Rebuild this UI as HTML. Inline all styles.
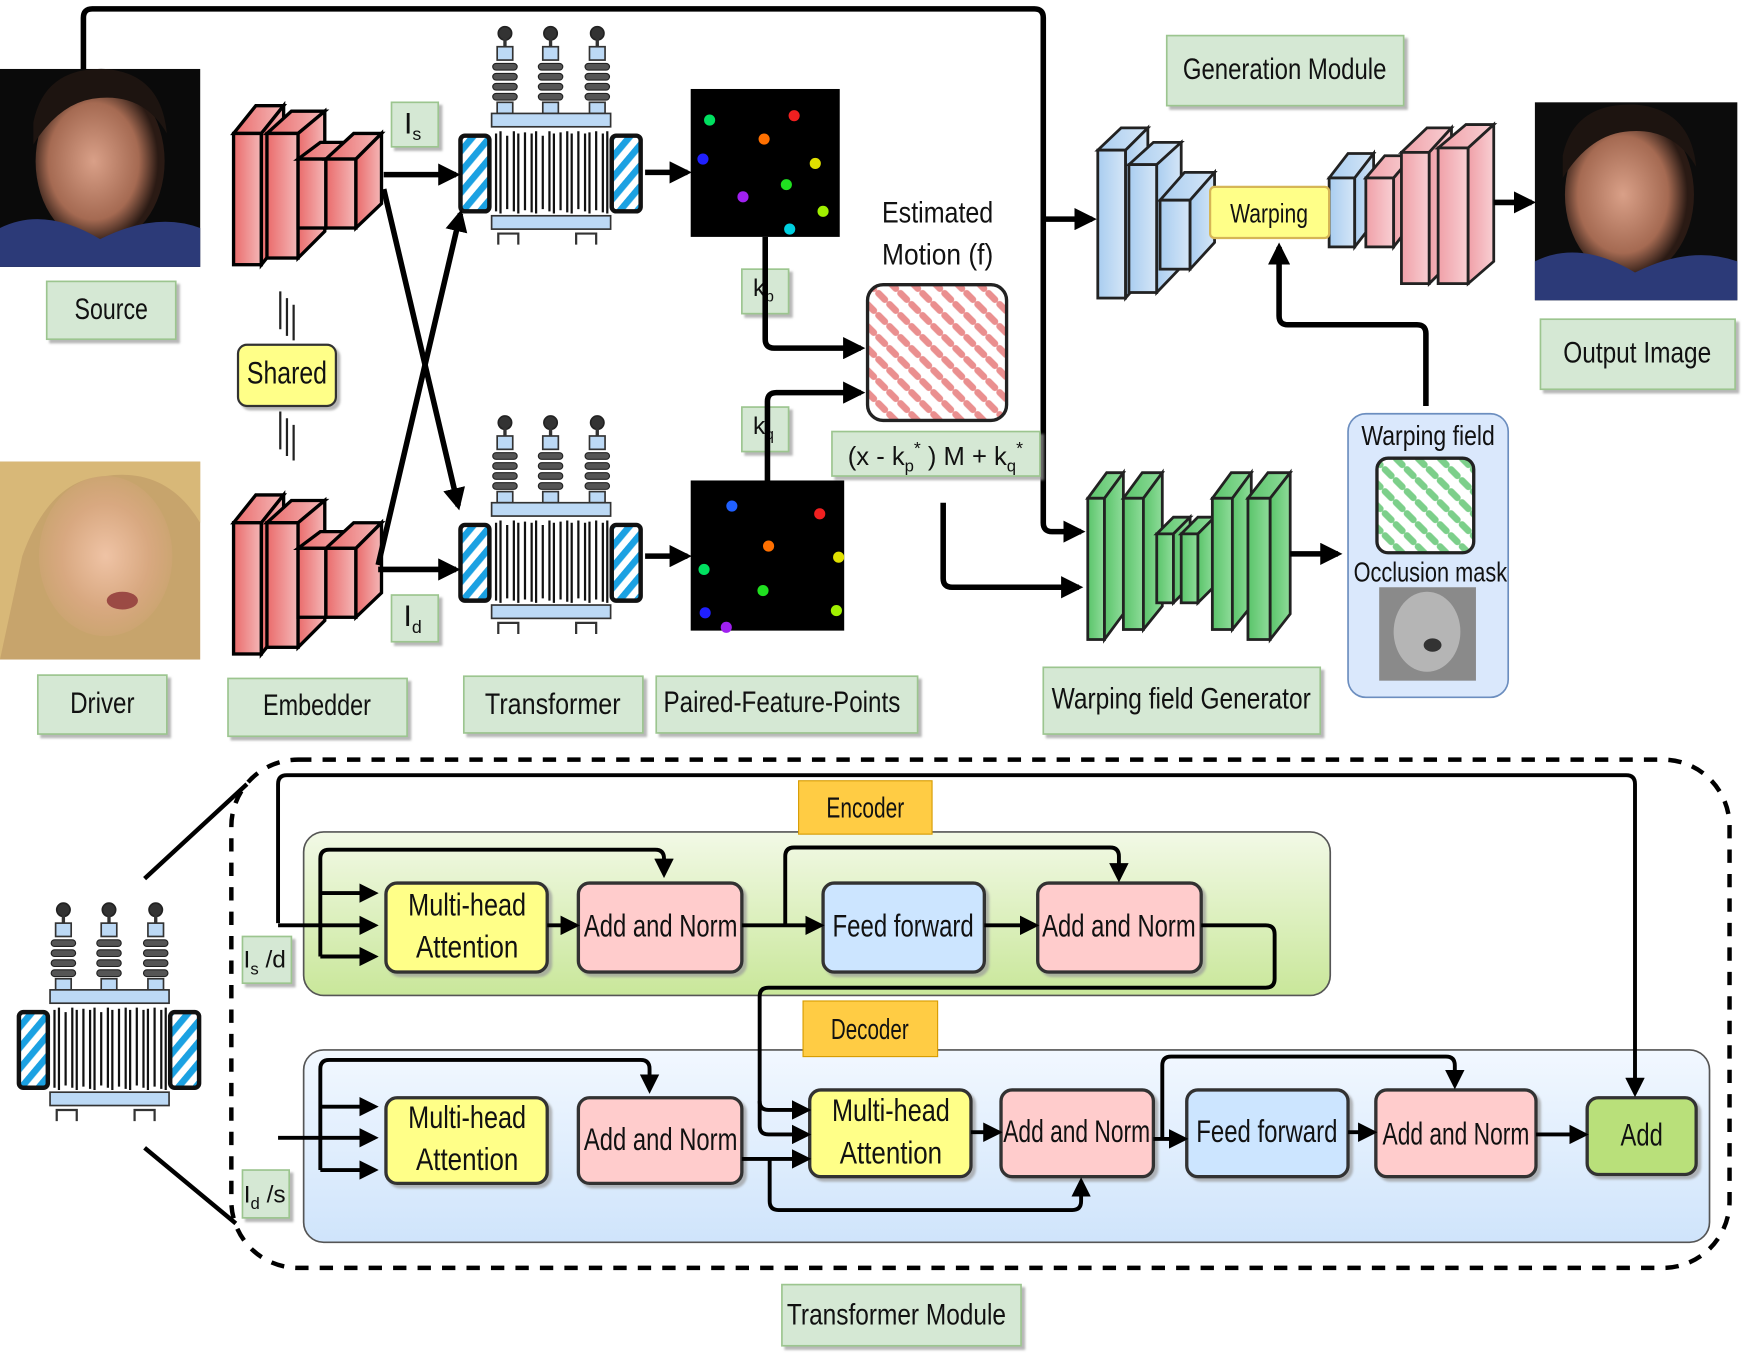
<!DOCTYPE html>
<html><head><meta charset="utf-8"><style>
html,body{margin:0;padding:0;background:#fff}
svg{display:block}
text{font-family:"Liberation Sans Narrow","Liberation Sans",sans-serif;fill:#111}
</style></head><body>
<svg width="1744" height="1358" viewBox="0 0 1568 1221" preserveAspectRatio="none" xmlns="http://www.w3.org/2000/svg">
<defs>
<marker id="ah" viewBox="0 0 10 10" refX="8" refY="5" markerWidth="4" markerHeight="4" orient="auto-start-reverse"><path d="M0,0L10,5L0,10z" fill="#000"/></marker>
<marker id="as" viewBox="0 0 10 10" refX="8" refY="5" markerWidth="5" markerHeight="5" orient="auto"><path d="M0,0L10,5L0,10z" fill="#000"/></marker>
<pattern id="hb" width="12" height="12" patternUnits="userSpaceOnUse" patternTransform="rotate(40)"><rect width="12" height="12" fill="#fff"/><rect width="6" height="12" fill="#1ba1e2"/></pattern>
<pattern id="hp" width="14" height="14" patternUnits="userSpaceOnUse" patternTransform="rotate(45)"><rect width="14" height="14" fill="#fff"/><rect x="0" y="3" width="14" height="6" rx="3" fill="#ea8f8f"/></pattern>
<pattern id="hg" width="14" height="14" patternUnits="userSpaceOnUse" patternTransform="rotate(45)"><rect width="14" height="14" fill="#fff"/><rect x="0" y="3" width="14" height="6" rx="3" fill="#7ccf8a"/></pattern>
<linearGradient id="rg" x1="0" x2="1"><stop offset="0" stop-color="#ea6b6b"/><stop offset="1" stop-color="#f4b8b8"/></linearGradient>
<linearGradient id="bg" x1="0" x2="1"><stop offset="0" stop-color="#a9cdf0"/><stop offset="1" stop-color="#d5e6f7"/></linearGradient>
<linearGradient id="pg" x1="0" x2="1"><stop offset="0" stop-color="#f0a0a8"/><stop offset="1" stop-color="#f8cfd3"/></linearGradient>
<linearGradient id="gg" x1="0" x2="1"><stop offset="0" stop-color="#5ac46a"/><stop offset="1" stop-color="#8fdc9a"/></linearGradient>
<linearGradient id="encg" x1="0" y1="0" x2="0" y2="1"><stop offset="0" stop-color="#f2f9e6"/><stop offset="1" stop-color="#c9e79a"/></linearGradient>
<linearGradient id="decg" x1="0" y1="0" x2="0" y2="1"><stop offset="0" stop-color="#f2f8ff"/><stop offset="1" stop-color="#cfe4fb"/></linearGradient>
<radialGradient id="face1" cx="0.45" cy="0.5" r="0.5"><stop offset="0" stop-color="#d9a088"/><stop offset="0.7" stop-color="#a56a52"/><stop offset="1" stop-color="#2a1a14"/></radialGradient>
<radialGradient id="face2" cx="0.5" cy="0.5" r="0.55"><stop offset="0" stop-color="#efc3a5"/><stop offset="0.6" stop-color="#d8a880"/><stop offset="1" stop-color="#c9a46e"/></radialGradient>
<g id="tr">
 <g fill="#555" stroke="#222" stroke-width="1.5">
  <circle cx="42" cy="8" r="6" fill="#333"/><circle cx="83" cy="8" r="6" fill="#333"/><circle cx="125" cy="8" r="6" fill="#333"/>
 </g>
 <g stroke="#333" stroke-width="3"><line x1="42" y1="12" x2="42" y2="30"/><line x1="83" y1="12" x2="83" y2="30"/><line x1="125" y1="12" x2="125" y2="30"/></g>
 <g fill="#bcd9f5" stroke="#333" stroke-width="1.5"><rect x="35" y="20" width="14" height="12"/><rect x="76" y="20" width="14" height="12"/><rect x="118" y="20" width="14" height="12"/></g>
 <g fill="#555" stroke="#222">
  <rect x="31" y="35" width="22" height="6" rx="3"/><rect x="31" y="44" width="22" height="6" rx="3"/><rect x="31" y="53" width="22" height="6" rx="3"/><rect x="31" y="62" width="22" height="6" rx="3"/>
  <rect x="72" y="35" width="22" height="6" rx="3"/><rect x="72" y="44" width="22" height="6" rx="3"/><rect x="72" y="53" width="22" height="6" rx="3"/><rect x="72" y="62" width="22" height="6" rx="3"/>
  <rect x="114" y="35" width="22" height="6" rx="3"/><rect x="114" y="44" width="22" height="6" rx="3"/><rect x="114" y="53" width="22" height="6" rx="3"/><rect x="114" y="62" width="22" height="6" rx="3"/>
 </g>
 <g fill="#bcd9f5" stroke="#333" stroke-width="1.5"><rect x="35" y="70" width="14" height="10"/><rect x="76" y="70" width="14" height="10"/><rect x="118" y="70" width="14" height="10"/>
 <rect x="30" y="80" width="107" height="12"/><rect x="30" y="172" width="107" height="12"/></g>
 <g stroke="#111" stroke-width="2">
  <path d="M34 98V168M38 96V170M44 100V166M50 96V168M54 98V170M60 97V167M66 98V169M70 96V170M76 100V166M82 96V168M86 98V170M92 97V167M98 96V169M102 98V170M108 96V166M114 98V168M118 97V170M124 96V167M130 98V169M134 96V170"/>
 </g>
 <rect x="2" y="100" width="26" height="68" rx="4" fill="url(#hb)" stroke="#111" stroke-width="4"/>
 <rect x="138" y="100" width="26" height="68" rx="4" fill="url(#hb)" stroke="#111" stroke-width="4"/>
 <g fill="none" stroke="#333" stroke-width="2"><path d="M36 198V188H54V198M106 198V188H124V198"/></g>
</g>
<g id="emb" stroke="#000" stroke-width="3" fill="url(#rg)">
<path d="M210 120L230 95H255L235 120z"/><rect x="210" y="120" width="25" height="118"/><path d="M235 120L255 95V213L235 238z"/>
<path d="M240 120L262 100H292L268 120z"/><rect x="240" y="120" width="28" height="112"/><path d="M268 120L292 100V208L268 232z"/>
<path d="M268 143L288 128H315L295 143z"/><rect x="268" y="143" width="25" height="62"/>
<path d="M293 143L318 120H343L320 143z"/><rect x="293" y="143" width="27" height="62"/><path d="M320 143L343 120V183L320 205z"/>
</g>
<filter id="sh" x="-10%" y="-10%" width="130%" height="130%"><feDropShadow dx="3" dy="3" stdDeviation="1" flood-color="#999" flood-opacity="0.7"/></filter>
</defs>

<path d="M75 62V16Q75 8 83 8H930Q938 8 938 16V470Q938 478 946 478H972" fill="none" stroke="#000" stroke-width="5" marker-end="url(#ah)"/>
<path d="M938 197H982" fill="none" stroke="#000" stroke-width="5" marker-end="url(#ah)"/>

<rect x="0" y="62" width="180" height="178" fill="#0a0a0a"/>
<ellipse cx="90" cy="145" rx="58" ry="75" fill="url(#face1)"/>
<path d="M30 110Q40 60 95 62Q145 66 150 120Q130 85 90 88Q55 90 30 130z" fill="#1d1410"/>
<path d="M0 240V205Q40 185 90 215Q140 190 180 205V240z" fill="#2c3a78"/>
<rect x="0" y="415" width="180" height="178" fill="#c7a46c"/>
<ellipse cx="95" cy="500" rx="60" ry="72" fill="url(#face2)"/>
<path d="M0 415H180V470Q150 420 95 428Q45 430 20 500L0 593z" fill="#d8b878"/>
<ellipse cx="110" cy="540" rx="14" ry="8" fill="#9b4a44"/>
<rect x="1380" y="92" width="182" height="178" fill="#0c0c0c"/>
<ellipse cx="1465" cy="175" rx="58" ry="75" fill="url(#face1)"/>
<path d="M1405 140Q1415 92 1470 94Q1520 98 1525 150Q1505 115 1465 118Q1430 120 1405 160z" fill="#1d1410"/>
<path d="M1380 270V235Q1420 215 1470 245Q1520 220 1562 235V270z" fill="#2c3a78"/>

<g filter="url(#sh)" fill="#d5e8d4" stroke="#9cc58f" stroke-width="1.5">
<rect x="42" y="253" width="116" height="52"/>
<rect x="34" y="607" width="116" height="53"/>
<rect x="205" y="610" width="161" height="52"/>
<rect x="417" y="608" width="161" height="51"/>
<rect x="590" y="608" width="235" height="51"/>
<rect x="938" y="600" width="249" height="60"/>
<rect x="1049" y="32" width="213" height="63"/>
<rect x="1385" y="287" width="175" height="63"/>
<rect x="352" y="92" width="42" height="40"/>
<rect x="352" y="535" width="42" height="42"/>
<rect x="667" y="242" width="42" height="40"/>
<rect x="667" y="366" width="42" height="40"/>
<rect x="748" y="388" width="187" height="40"/>
<rect x="218" y="842" width="44" height="42"/>
<rect x="218" y="1052" width="42" height="43"/>
<rect x="703" y="1155" width="215" height="55"/>
</g>
<g font-size="27" text-anchor="middle">
<text x="100" y="287" textLength="66" lengthAdjust="spacingAndGlyphs">Source</text>
<text x="92" y="641" textLength="58" lengthAdjust="spacingAndGlyphs">Driver</text>
<text x="285" y="643" textLength="97" lengthAdjust="spacingAndGlyphs">Embedder</text>
<text x="497" y="642" textLength="122" lengthAdjust="spacingAndGlyphs">Transformer</text>
<text x="703" y="640" textLength="213" lengthAdjust="spacingAndGlyphs">Paired-Feature-Points</text>
<text x="1062" y="637" textLength="233" lengthAdjust="spacingAndGlyphs">Warping field Generator</text>
<text x="1155" y="71" textLength="183" lengthAdjust="spacingAndGlyphs">Generation Module</text>
<text x="1472" y="326" textLength="133" lengthAdjust="spacingAndGlyphs">Output Image</text>
<text x="806" y="1191" textLength="197" lengthAdjust="spacingAndGlyphs">Transformer Module</text>
<text x="843" y="200" textLength="100" lengthAdjust="spacingAndGlyphs">Estimated</text>
<text x="843" y="238" textLength="100" lengthAdjust="spacingAndGlyphs">Motion (f)</text>
<text x="841" y="418" font-size="23">(x - k<tspan font-size="15" dy="6">p</tspan><tspan dy="-16" font-size="16">*</tspan><tspan dy="10"> ) M + k</tspan><tspan font-size="15" dy="6">q</tspan><tspan dy="-16" font-size="16">*</tspan></text>
<text x="371" y="120">I<tspan font-size="16" dy="6">s</tspan></text>
<text x="371" y="563">I<tspan font-size="16" dy="6">d</tspan></text>
<text x="677" y="266" font-size="22" text-anchor="start">k<tspan font-size="14" dy="5">p</tspan></text>
<text x="677" y="390" font-size="22" text-anchor="start">k<tspan font-size="14" dy="5">q</tspan></text>
<text x="238" y="870" font-size="22">I<tspan font-size="15" dy="6">s</tspan><tspan dy="-6"> /d</tspan></text>
<text x="238" y="1081" font-size="22">I<tspan font-size="15" dy="6">d</tspan><tspan dy="-6"> /s</tspan></text>
</g>

<rect x="214" y="310" width="88" height="55" rx="8" fill="#ffff88" stroke="#333" stroke-width="2" filter="url(#sh)"/>
<text x="258" y="345" font-size="28" text-anchor="middle" textLength="72" lengthAdjust="spacingAndGlyphs">Shared</text>
<g stroke="#222" stroke-width="2"><path d="M252 262V296M258 268V302M264 274V306M252 370V404M258 376V410M264 382V414"/></g>

<use href="#emb"/>
<use href="#emb" transform="translate(0 350)"/>

<use href="#tr" transform="translate(412 22)"/>
<use href="#tr" transform="translate(412 372)"/>

<g fill="none" stroke="#000" stroke-width="5" marker-end="url(#ah)">
<path d="M345 157H410"/>
<path d="M345 170L412 455"/>
<path d="M340 508L414 192"/>
<path d="M340 512H410"/>
<path d="M580 155H618"/>
<path d="M580 500H618"/>
</g>

<rect x="621" y="80" width="134" height="133" fill="#000"/>
<g><circle cx="638" cy="108" r="5" fill="#00e060"/><circle cx="714" cy="104" r="5" fill="#f02020"/><circle cx="687" cy="125" r="5" fill="#ff7000"/><circle cx="632" cy="143" r="5" fill="#2020ff"/><circle cx="733" cy="147" r="5" fill="#e0e000"/><circle cx="707" cy="166" r="5" fill="#20e020"/><circle cx="668" cy="177" r="5" fill="#a020f0"/><circle cx="740" cy="190" r="5" fill="#a0f000"/><circle cx="710" cy="206" r="5" fill="#00d0e0"/></g>
<rect x="621" y="432" width="138" height="135" fill="#000"/>
<g><circle cx="658" cy="455" r="5" fill="#2060ff"/><circle cx="737" cy="462" r="5" fill="#f02020"/><circle cx="691" cy="491" r="5" fill="#ff7000"/><circle cx="754" cy="501" r="5" fill="#e0e000"/><circle cx="633" cy="512" r="5" fill="#00e060"/><circle cx="686" cy="531" r="5" fill="#20e020"/><circle cx="634" cy="551" r="5" fill="#2020ff"/><circle cx="752" cy="549" r="5" fill="#a0f000"/><circle cx="653" cy="564" r="5" fill="#a020f0"/></g>

<g fill="none" stroke="#000" stroke-width="5" marker-end="url(#ah)">
<path d="M688 213V305Q688 313 696 313H774"/>
<path d="M690 432V361Q690 353 698 353H774"/>
<path d="M848 452V520Q848 528 856 528H970"/>
</g>
<rect x="780" y="256" width="125" height="122" rx="14" fill="url(#hp)" stroke="#222" stroke-width="3"/>

<g stroke="#222" stroke-width="2.5" fill="url(#bg)">
<path d="M987 135L1008 115H1032L1012 135z"/><rect x="987" y="135" width="25" height="133"/><path d="M1012 135L1032 115V245L1012 268z"/>
<path d="M1015 148L1037 128H1062L1040 148z"/><rect x="1015" y="148" width="25" height="115"/><path d="M1040 148L1062 128V240L1040 263z"/>
<path d="M1043 180L1065 155H1092L1070 180z"/><rect x="1043" y="180" width="27" height="62"/><path d="M1070 180L1092 155V218L1070 242z"/>
<path d="M1195 160L1212 138H1235L1218 160z"/><rect x="1195" y="160" width="23" height="62"/><path d="M1218 160L1235 138V200L1218 222z"/>
</g>
<g stroke="#222" stroke-width="2.5" fill="url(#pg)">
<path d="M1228 160L1245 140H1270L1253 160z"/><rect x="1228" y="160" width="25" height="62"/><path d="M1253 160L1270 140V200L1253 222z"/>
<path d="M1260 137L1283 115H1305L1285 137z"/><rect x="1260" y="137" width="25" height="118"/><path d="M1285 137L1305 115V235L1285 255z"/>
<path d="M1293 133L1318 112H1343L1320 133z"/><rect x="1293" y="133" width="27" height="122"/><path d="M1320 133L1343 112V235L1320 255z"/>
</g>
<rect x="1088" y="168" width="107" height="46" rx="4" fill="#ffff88" stroke="#d6b656" stroke-width="2"/>
<text x="1141" y="200" font-size="24" text-anchor="middle" textLength="70" lengthAdjust="spacingAndGlyphs">Warping</text>
<path d="M1343 182H1377" stroke="#000" stroke-width="5" marker-end="url(#ah)"/>

<g stroke="#222" stroke-width="2.5" fill="url(#gg)">
<path d="M978 448L995 425H1010L993 448z"/><rect x="978" y="448" width="15" height="127"/><path d="M993 448L1010 425V552L993 575z"/>
<path d="M1010 448L1027 425H1045L1028 448z"/><rect x="1010" y="448" width="18" height="118"/><path d="M1028 448L1045 425V545L1028 566z"/>
<path d="M1040 480L1055 465H1070L1055 480z"/><rect x="1040" y="480" width="15" height="62"/><path d="M1055 480L1070 465V527L1055 542z"/>
<path d="M1062 480L1077 465H1092L1077 480z"/><rect x="1062" y="480" width="15" height="62"/><path d="M1077 480L1092 465V527L1077 542z"/>
<path d="M1090 448L1107 425H1125L1108 448z"/><rect x="1090" y="448" width="18" height="118"/><path d="M1108 448L1125 425V545L1108 566z"/>
<path d="M1122 448L1140 425H1160L1142 448z"/><rect x="1122" y="448" width="20" height="127"/><path d="M1142 448L1160 425V552L1142 575z"/>
</g>
<path d="M1160 498H1203" stroke="#000" stroke-width="5" marker-end="url(#ah)"/>

<rect x="1212" y="372" width="144" height="255" rx="16" fill="#dae8fc" stroke="#6c8ebf" stroke-width="1.5"/>
<text x="1284" y="400" font-size="25" text-anchor="middle" textLength="120" lengthAdjust="spacingAndGlyphs">Warping field</text>
<rect x="1238" y="412" width="87" height="85" rx="10" fill="url(#hg)" stroke="#222" stroke-width="3"/>
<text x="1286" y="523" font-size="25" text-anchor="middle" textLength="138" lengthAdjust="spacingAndGlyphs">Occlusion mask</text>
<rect x="1240" y="528" width="87" height="84" fill="#8a8a8a"/>
<ellipse cx="1283" cy="568" rx="30" ry="36" fill="#b5b5b5"/>
<ellipse cx="1288" cy="580" rx="8" ry="6" fill="#333"/>
<path d="M1282 365V300Q1282 292 1274 292H1158Q1150 292 1150 284V222" fill="none" stroke="#000" stroke-width="5" marker-end="url(#ah)"/>

<rect x="208" y="683" width="1347" height="457" rx="60" fill="none" stroke="#000" stroke-width="4" stroke-dasharray="12 10"/>
<use href="#tr" transform="translate(15 810)"/>
<g stroke="#000" stroke-width="4"><path d="M130 790L222 705M130 1032L212 1100"/></g>

<rect x="273" y="748" width="923" height="147" rx="18" fill="url(#encg)" stroke="#555" stroke-width="1.5"/>
<rect x="273" y="944" width="1264" height="173" rx="18" fill="url(#decg)" stroke="#555" stroke-width="1.5"/>
<rect x="718" y="702" width="120" height="48" fill="#ffcc44" stroke="#d79b00" stroke-width="1"/>
<text x="778" y="735" font-size="26" text-anchor="middle" textLength="70" lengthAdjust="spacingAndGlyphs">Encoder</text>
<rect x="722" y="900" width="121" height="50" fill="#ffcc44" stroke="#d79b00" stroke-width="1"/>
<text x="782" y="934" font-size="26" text-anchor="middle" textLength="70" lengthAdjust="spacingAndGlyphs">Decoder</text>

<g stroke="#333" stroke-width="3" filter="url(#sh)">
<rect x="347" y="794" width="145" height="80" rx="10" fill="#ffff88"/>
<rect x="520" y="794" width="147" height="80" rx="10" fill="#ffcccc"/>
<rect x="740" y="794" width="145" height="80" rx="10" fill="#cce5ff"/>
<rect x="933" y="794" width="147" height="80" rx="10" fill="#ffcccc"/>
<rect x="347" y="987" width="145" height="77" rx="10" fill="#ffff88"/>
<rect x="520" y="987" width="147" height="77" rx="10" fill="#ffcccc"/>
<rect x="728" y="980" width="145" height="78" rx="10" fill="#ffff88"/>
<rect x="900" y="980" width="137" height="78" rx="10" fill="#ffcccc"/>
<rect x="1067" y="980" width="145" height="78" rx="10" fill="#cce5ff"/>
<rect x="1237" y="980" width="144" height="78" rx="10" fill="#ffcccc"/>
<rect x="1427" y="987" width="98" height="69" rx="10" fill="#b9e07a"/>
</g>
<g font-size="28" text-anchor="middle">
<text x="420" y="823" textLength="106" lengthAdjust="spacingAndGlyphs">Multi-head</text><text x="420" y="861" textLength="92" lengthAdjust="spacingAndGlyphs">Attention</text>
<text x="594" y="842" textLength="138" lengthAdjust="spacingAndGlyphs">Add and Norm</text>
<text x="812" y="842" textLength="127" lengthAdjust="spacingAndGlyphs">Feed forward</text>
<text x="1006" y="842" textLength="138" lengthAdjust="spacingAndGlyphs">Add and Norm</text>
<text x="420" y="1014" textLength="106" lengthAdjust="spacingAndGlyphs">Multi-head</text><text x="420" y="1052" textLength="92" lengthAdjust="spacingAndGlyphs">Attention</text>
<text x="594" y="1034" textLength="138" lengthAdjust="spacingAndGlyphs">Add and Norm</text>
<text x="801" y="1008" textLength="106" lengthAdjust="spacingAndGlyphs">Multi-head</text><text x="801" y="1046" textLength="92" lengthAdjust="spacingAndGlyphs">Attention</text>
<text x="968" y="1027" textLength="132" lengthAdjust="spacingAndGlyphs">Add and Norm</text>
<text x="1139" y="1027" textLength="127" lengthAdjust="spacingAndGlyphs">Feed forward</text>
<text x="1309" y="1029" textLength="132" lengthAdjust="spacingAndGlyphs">Add and Norm</text>
<text x="1476" y="1030" textLength="38" lengthAdjust="spacingAndGlyphs">Add</text>
</g>

<g fill="none" stroke="#000" stroke-width="3.5">
<path d="M250 830V705Q250 697 258 697H1462Q1470 697 1470 705V983" marker-end="url(#as)"/>
<path d="M250 832H290"/>
<path d="M288 860V772Q288 764 296 764H589Q597 764 597 772V786" marker-end="url(#as)"/>
<path d="M288 803H337" marker-end="url(#as)"/><path d="M288 832H337" marker-end="url(#as)"/><path d="M288 860H337" marker-end="url(#as)"/>
<path d="M492 832H518" marker-end="url(#as)"/>
<path d="M667 832H738" marker-end="url(#as)"/>
<path d="M706 832V770Q706 762 714 762H998Q1006 762 1006 770V790" marker-end="url(#as)"/>
<path d="M885 832H931" marker-end="url(#as)"/>
<path d="M1080 832H1138Q1146 832 1146 840V880Q1146 888 1138 888H691Q683 888 683 896V990Q683 998 691 998H726" marker-end="url(#as)"/>
<path d="M683 990V1012Q683 1020 691 1020H726" marker-end="url(#as)"/>
<path d="M250 1023H290"/>
<path d="M288 1052V961Q288 953 296 953H576Q584 953 584 961V980" marker-end="url(#as)"/>
<path d="M288 995H337" marker-end="url(#as)"/><path d="M288 1023H337" marker-end="url(#as)"/><path d="M288 1052H337" marker-end="url(#as)"/>
<path d="M667 1042H726" marker-end="url(#as)"/>
<path d="M692 1042V1080Q692 1088 700 1088H964Q972 1088 972 1080V1062" marker-end="url(#as)"/>
<path d="M873 1018H898" marker-end="url(#as)"/>
<path d="M1037 1024H1065" marker-end="url(#as)"/>
<path d="M1045 1024V958Q1045 950 1053 950H1300Q1308 950 1308 958V976" marker-end="url(#as)"/>
<path d="M1212 1018H1235" marker-end="url(#as)"/>
<path d="M1381 1020H1425" marker-end="url(#as)"/>
</g>
</svg>
</body></html>
